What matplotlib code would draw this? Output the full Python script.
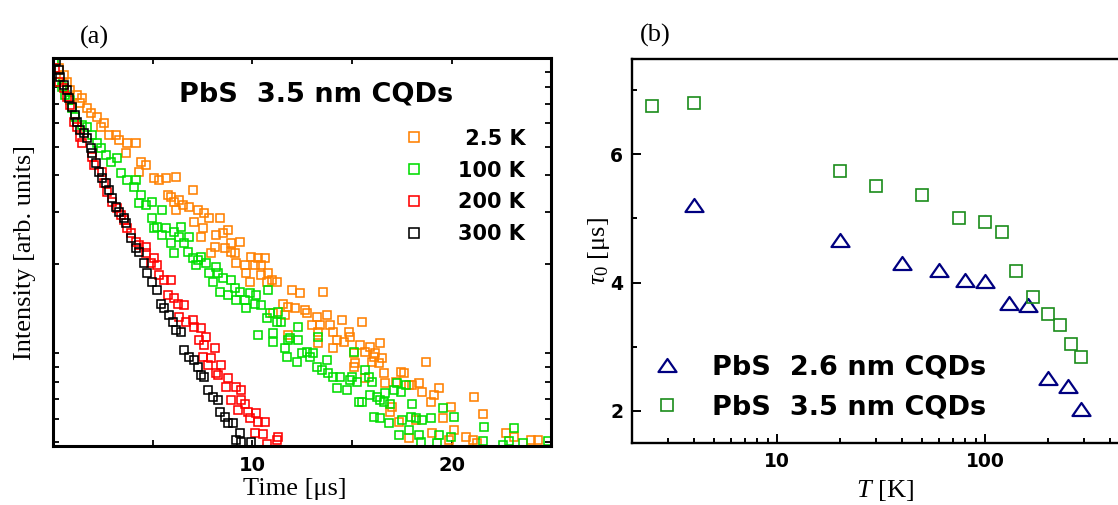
import numpy as np
import matplotlib
matplotlib.use("Agg")
import matplotlib.pyplot as plt
from matplotlib.path import Path
from matplotlib.ticker import MultipleLocator, NullFormatter, FormatStrFormatter

# (a) PL decay of the 3.5 nm dots: time [us] and log10 of the intensity [arb. units]
t_2p5K = [0.27, 0.52, 0.69, 0.86, 1.19, 1.44, 1.36, 1.70, 1.87, 2.20, 2.54, 2.37, 2.79, 3.13, 3.30,
          3.72, 4.14, 3.64, 4.39, 4.65, 4.31, 5.07, 5.32, 5.66, 5.74, 6.08, 6.16, 6.16, 7.00, 5.91,
          6.33, 6.49, 6.83, 7.25, 7.59, 7.84, 8.35, 7.08, 7.51, 8.18, 8.52, 8.77, 7.42, 8.94, 9.36,
          8.10, 8.60, 8.94, 9.11, 7.93, 9.95, 10.28, 10.62, 9.61, 9.19, 10.12, 10.45, 9.70, 10.45, 10.79,
          9.86, 10.71, 11.21, 10.96, 11.97, 12.39, 13.57, 11.55, 11.80, 12.14, 12.64, 11.04, 11.63, 12.73, 13.23,
          13.74, 14.49, 12.98, 13.40, 13.90, 11.80, 13.31, 14.07, 14.83, 14.24, 14.58, 14.91, 13.31, 14.07, 15.08,
          15.08, 15.51, 15.42, 15.92, 16.43, 15.67, 16.18, 16.09, 16.52, 16.01, 16.35, 15.17, 16.60, 17.44, 17.61,
          15.67, 16.68, 17.19, 17.86, 18.03, 18.36, 18.54, 19.12, 19.37, 18.95, 17.02, 18.70, 19.96, 16.93, 17.35,
          18.20, 19.55, 21.14, 21.57, 17.86, 19.04, 20.13, 19.88, 20.72, 21.06, 22.74, 23.16, 24.01, 24.34, 21.28]
logI_2p5K = [0.965, 0.942, 0.920, 0.892, 0.875, 0.863, 0.846, 0.829, 0.813, 0.801, 0.779, 0.767, 0.739, 0.739, 0.722,
             0.711, 0.711, 0.677, 0.648, 0.637, 0.615, 0.592, 0.586, 0.592, 0.536, 0.513, 0.485, 0.596, 0.553, 0.530,
             0.519, 0.502, 0.496, 0.485, 0.474, 0.457, 0.457, 0.445, 0.423, 0.400, 0.406, 0.417, 0.394, 0.372, 0.377,
             0.360, 0.355, 0.343, 0.338, 0.338, 0.326, 0.321, 0.321, 0.298, 0.304, 0.298, 0.298, 0.270, 0.264, 0.270,
             0.242, 0.242, 0.242, 0.247, 0.214, 0.202, 0.208, 0.168, 0.157, 0.152, 0.146, 0.135, 0.129, 0.135, 0.123,
             0.129, 0.112, 0.095, 0.095, 0.095, 0.061, 0.072, 0.072, 0.072, 0.044, 0.038, 0.055, 0.033, 0.016, -0.001,
             -0.046, 0.106, 0.027, 0.021, 0.033, 0.004, -0.001, -0.013, -0.018, -0.029, -0.035, -0.035, -0.069, -0.063, -0.069,
             -0.086, -0.103, -0.097, -0.108, -0.108, -0.103, -0.133, -0.142, -0.120, -0.165, -0.182, -0.029, -0.182, -0.199, -0.233,
             -0.227, -0.221, -0.148, -0.207, -0.289, -0.272, -0.261, -0.295, -0.284, -0.293, -0.271, -0.286, -0.293, -0.293, -0.306]

t_100K = [0.02, 0.10, 0.43, 0.61, 0.86, 0.94, 1.11, 1.44, 1.70, 1.95, 2.20, 2.37, 2.63, 2.88, 3.21,
          3.38, 3.72, 4.14, 4.06, 4.39, 4.31, 4.65, 4.98, 5.48, 4.98, 5.23, 5.07, 5.66, 6.08, 5.48,
          5.91, 6.41, 6.33, 6.83, 6.58, 6.08, 6.75, 7.00, 7.42, 7.25, 7.68, 8.18, 7.17, 7.84, 8.26,
          8.01, 8.52, 8.94, 9.11, 8.35, 8.77, 9.36, 9.86, 10.20, 9.19, 9.61, 10.12, 10.45, 10.79, 9.70,
          10.87, 11.29, 10.71, 11.21, 11.46, 12.30, 10.28, 11.04, 11.88, 12.30, 13.31, 11.04, 11.80, 11.63, 12.47,
          11.72, 12.73, 13.06, 12.22, 12.89, 13.74, 13.23, 13.48, 13.82, 14.07, 14.41, 15.00, 14.24, 14.75, 15.08,
          15.33, 14.91, 15.25, 15.67, 15.84, 16.01, 15.92, 15.51, 16.26, 16.43, 16.68, 16.93, 16.60, 17.10, 17.44,
          17.27, 17.69, 18.03, 16.09, 16.43, 16.85, 17.53, 17.94, 18.20, 18.54, 18.95, 19.55, 20.13, 17.35, 17.86,
          18.36, 18.45, 19.37, 19.29, 19.96, 21.65, 21.57, 23.16, 22.91, 23.59, 24.85, 22.58]
logI_100K = [0.987, 0.920, 0.903, 0.875, 0.858, 0.829, 0.801, 0.773, 0.767, 0.739, 0.711, 0.694, 0.671, 0.648, 0.660,
             0.609, 0.586, 0.586, 0.564, 0.536, 0.507, 0.502, 0.513, 0.485, 0.457, 0.428, 0.423, 0.423, 0.411, 0.400,
             0.372, 0.428, 0.394, 0.394, 0.372, 0.338, 0.343, 0.321, 0.326, 0.315, 0.304, 0.293, 0.298, 0.270, 0.270,
             0.242, 0.253, 0.247, 0.219, 0.208, 0.197, 0.208, 0.202, 0.197, 0.180, 0.180, 0.168, 0.163, 0.214, 0.152,
             0.135, 0.140, 0.118, 0.106, 0.106, 0.089, 0.061, 0.067, 0.050, 0.044, 0.055, 0.038, 0.044, 0.016, -0.001,
             -0.013, 0.004, -0.001, -0.029, -0.013, -0.024, -0.046, -0.058, -0.069, -0.080, -0.080, -0.080, -0.120, -0.125, 0.004,
             -0.165, -0.092, -0.097, -0.058, -0.080, -0.097, -0.142, -0.165, -0.148, -0.159, -0.137, -0.171, -0.165, -0.125, -0.131,
             -0.103, -0.108, -0.171, -0.216, -0.221, -0.236, -0.227, -0.216, -0.221, -0.227, -0.221, -0.187, -0.216, -0.278, -0.261,
             -0.276, -0.301, -0.278, -0.306, -0.284, -0.250, -0.297, -0.254, -0.297, -0.306, -0.297, -0.311]

t_200K = [0.07, 0.27, 0.52, 0.69, 0.86, 1.02, 1.19, 1.36, 1.44, 1.95, 2.04, 2.45, 2.54, 2.71, 2.96,
          3.21, 3.38, 3.55, 3.72, 3.89, 4.14, 4.31, 4.65, 4.65, 5.07, 4.90, 5.23, 5.32, 5.57, 5.91,
          5.74, 6.08, 6.24, 6.58, 6.33, 6.67, 7.00, 7.09, 7.42, 7.34, 7.68, 7.59, 8.10, 7.51, 7.93,
          7.76, 8.43, 8.18, 8.26, 8.77, 8.69, 9.19, 9.44, 8.94, 9.44, 9.61, 9.27, 9.78, 10.20, 9.86,
          10.28, 10.62, 10.12, 10.54, 11.29, 11.21, 10.71]
logI_200K = [0.965, 0.920, 0.897, 0.869, 0.841, 0.784, 0.767, 0.733, 0.711, 0.665, 0.637, 0.615, 0.575, 0.547, 0.513,
             0.491, 0.468, 0.451, 0.423, 0.406, 0.377, 0.366, 0.360, 0.338, 0.321, 0.304, 0.298, 0.264, 0.247, 0.247,
             0.197, 0.185, 0.168, 0.163, 0.123, 0.106, 0.112, 0.089, 0.084, 0.044, 0.055, 0.027, 0.016, -0.013, -0.018,
             -0.041, -0.041, -0.069, -0.075, -0.086, -0.114, -0.114, -0.125, -0.159, -0.159, -0.171, -0.193, -0.199, -0.204, -0.221,
             -0.233, -0.233, -0.272, -0.275, -0.284, -0.295, -0.309]

t_300K = [0.13, 0.27, 0.35, 0.52, 0.69, 0.77, 0.94, 1.11, 1.19, 1.36, 1.53, 1.70, 1.87, 1.95, 2.12,
          2.29, 2.45, 2.63, 2.79, 2.96, 3.13, 3.30, 3.55, 3.64, 3.89, 4.14, 4.31, 4.56, 4.73, 4.98,
          5.23, 5.40, 5.57, 5.82, 5.99, 6.16, 6.41, 6.58, 6.83, 7.08, 7.25, 7.42, 7.59, 7.76, 8.01,
          8.26, 8.35, 8.60, 8.77, 9.02, 9.36, 9.19, 9.44, 9.95]
logI_300K = [0.990, 0.959, 0.937, 0.908, 0.892, 0.863, 0.835, 0.807, 0.784, 0.756, 0.745, 0.728, 0.694, 0.677, 0.643,
             0.615, 0.592, 0.575, 0.553, 0.524, 0.496, 0.479, 0.457, 0.440, 0.389, 0.355, 0.344, 0.304, 0.270, 0.242,
             0.214, 0.168, 0.152, 0.129, 0.106, 0.078, 0.072, 0.010, -0.013, -0.024, -0.046, -0.075, -0.080, -0.125, -0.148,
             -0.159, -0.199, -0.216, -0.238, -0.238, -0.272, -0.295, -0.301, -0.301]

decay_labels = [" 2.5 K", "100 K", "200 K", "300 K"]
decay_colors = ["#ff8000", "#00dd00", "#ff0000", "#000000"]

# (b) decay time vs temperature
T_26nm = [4, 20, 40, 60, 80, 100, 130, 160, 200, 250, 290]
tau_26nm = [5.21, 4.67, 4.31, 4.20, 4.04, 4.03, 3.68, 3.65, 2.51, 2.39, 2.02]
T_35nm = [2.5, 4, 20, 30, 50, 75, 100, 120, 140, 170, 200, 230, 260, 290]
tau_35nm = [6.75, 6.80, 5.74, 5.51, 5.37, 5.00, 4.95, 4.79, 4.18, 3.78, 3.51, 3.33, 3.04, 2.83]

plt.rcParams["mathtext.fontset"] = "custom"
plt.rcParams["mathtext.rm"] = "Liberation Serif"
plt.rcParams["mathtext.it"] = "Liberation Serif:italic"
serif = "Liberation Serif"

fig = plt.figure(figsize=(11.18, 5.05), dpi=100)
ax1 = fig.add_axes([0.0477, 0.1168, 0.4452, 0.7683])
ax2 = fig.add_axes([0.565, 0.1222, 0.4462, 0.761])

# ---- panel (a)
series = [(t_2p5K, logI_2p5K), (t_100K, logI_100K), (t_200K, logI_200K), (t_300K, logI_300K)]
for (t, logi), col, lab in zip(series, decay_colors, decay_labels):
    ax1.plot(t, 10 ** np.asarray(logi), ls="none", marker="s", ms=6.4, mfc="none",
             mec=col, mew=1.15, label=lab)
ax1.set_yscale("log")
ax1.set_xlim(0, 25)
ax1.set_ylim(10 ** -0.315, 10)
ax1.set_xticks([5, 10, 15, 20])
ax1.set_xticklabels(["", "10", "", "20"])
ax1.yaxis.set_major_formatter(NullFormatter())
ax1.yaxis.set_minor_formatter(NullFormatter())
ax1.tick_params(which="both", direction="in", top=True, right=True, length=4, width=1.3,
                labelsize=14, pad=7)
for lbl in ax1.get_xticklabels():
    lbl.set_fontweight("bold")
for sp in ax1.spines.values():
    sp.set_linewidth(2.2)

ax1.text(0.528, 0.905, "PbS  3.5 nm CQDs", transform=ax1.transAxes, ha="center", va="center",
         fontsize=19.5, fontweight="bold")
ax1.legend(loc="upper left", bbox_to_anchor=(0.6826, 0.818), frameon=False, borderaxespad=0,
           borderpad=0, handlelength=2.0, handletextpad=1.1, labelspacing=0.57, numpoints=1,
           markerscale=1.1, prop={"weight": "bold", "size": 15})
ax1.set_xlabel("Time [μs]", family=serif, fontsize=19)
ax1.xaxis.set_label_coords(0.486, -0.082)
ax1.set_ylabel("Intensity [arb. units]", family=serif, fontsize=19)
ax1.yaxis.set_label_coords(-0.035, 0.5)
fig.text(94 / 1118, 1 - 37 / 505, "(a)", ha="center", va="center", family=serif, fontsize=19)

# ---- panel (b)
tri = Path([(-1, -0.72), (1, -0.72), (0, 0.72), (-1, -0.72)], closed=True)
ax2.plot(T_26nm, tau_26nm, ls="none", marker=tri, ms=13, mfc="none", mec="#000080", mew=1.6,
         label="PbS  2.6 nm CQDs")
ax2.plot(T_35nm, tau_35nm, ls="none", marker="s", ms=9, mfc="none", mec="#1a8c1a", mew=1.2,
         label="PbS  3.5 nm CQDs")
ax2.set_xscale("log")
ax2.set_xlim(2, 500)
ax2.set_ylim(1.49, 7.49)
ax2.yaxis.set_major_locator(MultipleLocator(2))
ax2.yaxis.set_minor_locator(MultipleLocator(1))
ax2.xaxis.set_major_formatter(FormatStrFormatter("%g"))
ax2.xaxis.set_minor_formatter(NullFormatter())
ax2.tick_params(which="major", direction="in", length=6.3, width=1.4, labelsize=13.5, pad=6)
ax2.tick_params(which="minor", direction="in", length=3.6, width=1.4)
for lbl in ax2.get_xticklabels() + ax2.get_yticklabels():
    lbl.set_fontweight("bold")
for sp in ax2.spines.values():
    sp.set_linewidth(1.7)

ax2.legend(loc="upper left", bbox_to_anchor=(0.0273, 0.231), frameon=False, borderaxespad=0,
           borderpad=0, handlelength=1.6, handletextpad=0.85, labelspacing=0.53, numpoints=1,
           prop={"weight": "bold", "size": 19.5})
ax2.set_xlabel(r"$T$ [K]", family=serif, fontsize=19)
ax2.xaxis.set_label_coords(0.508, -0.09)
ax2.set_ylabel(r"$\tau_{\mathit{0}}$ [μs]", family=serif, fontsize=19)
ax2.yaxis.set_label_coords(-0.04, 0.5)
fig.text(655 / 1118, 1 - 35 / 505, "(b)", ha="center", va="center", family=serif, fontsize=19)

fig.savefig("out.png", dpi=100)
